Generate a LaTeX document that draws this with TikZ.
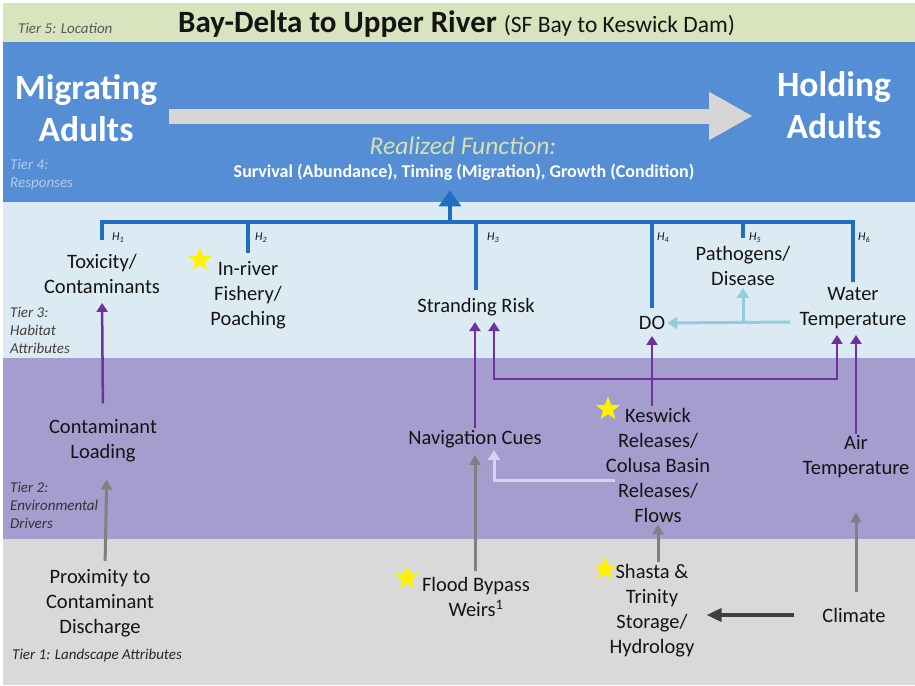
\documentclass[tikz,border=0pt]{standalone}
\usepackage{fontspec}
\setmainfont{Carlito}
\usepackage{tikz}
\usetikzlibrary{arrows.meta,shapes.geometric,calc}

\definecolor{tierfive}{HTML}{D7E4BD}
\definecolor{tierfour}{HTML}{558ED5}
\definecolor{tierthree}{HTML}{DCEBF3}
\definecolor{tiertwo}{HTML}{A49ECF}
\definecolor{tierone}{HTML}{D9D9D9}
\definecolor{hypblue}{HTML}{1F6EC1}
\definecolor{drvpurple}{HTML}{7030A0}
\definecolor{lsgray}{HTML}{808080}
\definecolor{wtblue}{HTML}{93CDDD}
\definecolor{navlav}{HTML}{D9D2EC}
\definecolor{clidark}{HTML}{404040}
\definecolor{flowgray}{HTML}{D6D6D6}
\definecolor{realgreen}{HTML}{D3E2AE}
\definecolor{txt}{HTML}{141414}

\tikzset{
	attr/.style={font=\fontsize{20.5}{25}\selectfont, align=center, text=txt, inner sep=2pt},
	stage/.style={font=\fontsize{35.5}{42}\selectfont\bfseries, align=center, text=white, inner sep=0pt},
	tier/.style={font=\fontsize{15}{18}\selectfont\itshape, align=left, anchor=west, inner sep=0pt},
	hlab/.style={font=\fontsize{12}{14}\selectfont\itshape, text=txt, anchor=west, inner sep=0pt},
	starmark/.style={star, star points=5, star point ratio=2.4, fill=yellow, draw=none, minimum size=25pt, inner sep=0pt},
	hyp/.style={draw=hypblue, line width=3.5pt},
	drv/.style={draw=drvpurple, line width=2.5pt, -{Triangle[width=11pt,length=9pt]}, shorten >=4pt},
	lsc/.style={draw=lsgray, line width=3pt, -{Triangle[width=11pt,length=10pt]}},
	wtc/.style={draw=wtblue, line width=3pt, -{Triangle[width=12pt,length=10pt]}},
	navc/.style={draw=navlav, line width=3pt, -{Triangle[width=12pt,length=10pt]}},
	clic/.style={draw=clidark, line width=3.5pt, -{Triangle[width=13pt,length=15pt]}}
}

\begin{document}
\begin{tikzpicture}[x=1pt,y=-1pt]
	\fill[white] (0,0) rectangle (915,685);
	\fill[tierfive] (3,3) rectangle (915,42);
	\fill[tierfour] (3,42) rectangle (915,202);
	\fill[tierthree] (3,202) rectangle (915,358);
	\fill[tiertwo] (3,358) rectangle (915,539);
	\fill[tierone] (3,539) rectangle (915,685);

	\node[tier, text=black!65] (t5) at (18,28) {Tier 5: Location};
	\node[tier, text=tierfour!45!white] (t4) at (10,175) {Tier 4:\\Responses};
	\node[tier, text=black!75] (t3) at (10,330) {Tier 3:\\Habitat\\Attributes};
	\node[tier, text=black!80] (t2) at (10,505) {Tier 2:\\Environmental\\Drivers};
	\node[tier, text=black!85] (t1) at (12,655) {Tier 1: Landscape Attributes};

	\node[anchor=base west, inner sep=0pt, text=txt] (title) at (178,33) {\fontsize{31}{36}\selectfont\bfseries Bay-Delta to Upper River \fontsize{23.5}{26}\selectfont\mdseries(SF Bay to Keswick Dam)};

	\node[stage] (mig) at (86,108) {Migrating\\Adults};
	\node[stage] (hold) at (834,105) {Holding\\Adults};
	\coordinate (flowS) at (169,116);
	\coordinate (flowE) at (753,116);
	\draw[draw=flowgray, line width=15pt, -{Triangle[width=45pt,length=44pt]}] (flowS) -- (flowE);
	\node[font=\fontsize{25.5}{28}\selectfont\itshape, text=realgreen, inner sep=0pt] (real) at (463,146) {Realized Function:};
	\node[font=\fontsize{18}{20}\selectfont\bfseries, text=white, inner sep=0pt] (resp) at (464,172) {Survival (Abundance), Timing (Migration), Growth (Condition)};

	\node[attr] (tox) at (102,274) {Toxicity/\\Contaminants};
	\node[attr] (fish) at (248,295) {In-river\\Fishery/\\Poaching};
	\node[attr] (strand) at (476,307) {Stranding Risk};
	\node[attr] (do) at (652,323) {DO};
	\node[attr] (path) at (743,266) {Pathogens/\\Disease};
	\node[attr] (wt) at (853,308) {Water\\Temperature};

	\node[attr] (load) at (103,441) {Contaminant\\Loading};
	\node[attr] (nav) at (475,439) {Navigation Cues};
	\node[attr] (kes) at (658,465) {Keswick\\Releases/\\Colusa Basin\\Releases/\\Flows};
	\node[attr] (air) at (856,457) {Air\\Temperature};

	\node[attr] (prox) at (100,603) {Proximity to\\Contaminant\\Discharge};
	\node[attr] (flood) at (476,597) {Flood Bypass\\Weirs\textsuperscript{1}};
	\node[attr] (shasta) at (652,611) {Shasta \&\\Trinity\\Storage/\\Hydrology};
	\node[attr] (clim) at (854,615) {Climate};

	\node[starmark] (s1) at (200,260) {};
	\node[starmark] (s2) at (608,409) {};
	\node[starmark] (s3) at (407,578) {};
	\node[starmark] (s4) at (605,569) {};

	\coordinate (bar) at (450,222);
	\draw[hyp, shorten <=12pt, shorten >=3pt] (tox.north) -- (tox.north |- bar) -- (wt.north |- bar) -- (wt.north);
	\foreach \n in {fish,strand,do,path}
		\draw[hyp, shorten >=6pt] (\n.north |- bar) -- (\n.north);
	\draw[draw=hypblue, line width=4.5pt, -{Triangle[width=22pt,length=16pt]}, shorten >=10pt] (bar) -- (bar |- resp.south);
	\node[hlab] (h1) at (112,238) {H\textsubscript{1}};
	\node[hlab] (h2) at (255,238) {H\textsubscript{2}};
	\node[hlab] (h3) at (487,238) {H\textsubscript{3}};
	\node[hlab] (h4) at (657,238) {H\textsubscript{4}};
	\node[hlab] (h5) at (749,238) {H\textsubscript{5}};
	\node[hlab] (h6) at (858,238) {H\textsubscript{6}};

	\coordinate (kj) at (650,379);
	\draw[drv, shorten <=14pt, shorten >=7pt] (load.north) -- (tox.south);
	\draw[drv] (nav.north) -- (nav.north |- strand.south);
	\draw[drv] (do.south |- kes.north) -- (do.south);
	\draw[drv] (kj) -| ($(strand.south)+(18,0)$);
	\draw[drv] (kj) -| ($(wt.south)+(-16,0)$);
	\draw[drv] (air.north) -- (air.north |- wt.south);

	\coordinate (wtl) at (790,322);
	\draw[wtc] (wtl) -- (do.east);
	\draw[wtc] (path.south |- wtl) -- (path.south);

	\coordinate (kesl) at (615,480);
	\draw[navc] (kesl) -| ($(nav.south)+(19,0)$);

	\draw[lsc, shorten <=6pt, shorten >=15pt] ($(prox.north)+(5,0)$) -- ($(load.south)+(4,0)$);
	\draw[lsc, shorten <=4pt, shorten >=5pt] (flood.north -| nav.south) -- (nav.south);
	\draw[lsc] (kes.south |- shasta.north) -- (kes.south);
	\draw[lsc, shorten <=14pt, shorten >=32pt] (clim.north -| air.south) -- (air.south);
	\draw[clic, shorten <=26pt, shorten >=10pt] (clim.west) -- (shasta.east |- clim.west);
\end{tikzpicture}
\end{document}
